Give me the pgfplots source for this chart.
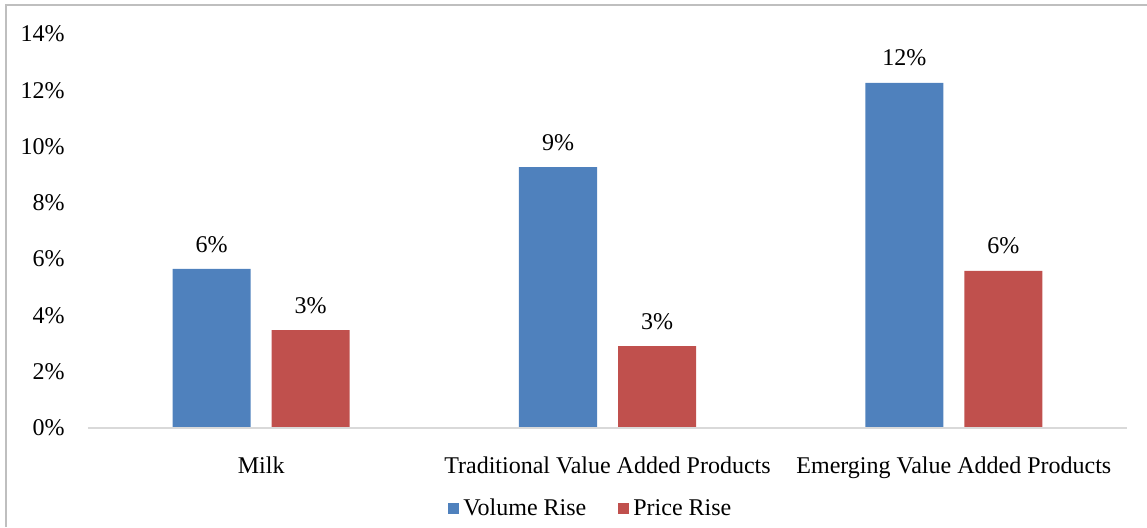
\documentclass[border=0pt]{standalone}
\usepackage{fontspec}
\setmainfont{Liberation Serif}
\usepackage{pgfplots}
\pgfplotsset{compat=1.18}
\definecolor{vblue}{HTML}{4F81BD}
\definecolor{pred}{HTML}{C0504D}
\definecolor{axgray}{HTML}{D9D9D9}
\definecolor{bordergray}{HTML}{BFBFBF}
\begin{document}
\begin{tikzpicture}[font=\fontsize{12}{14.4}\selectfont]
\path[use as bounding box] (-44pt,-49.5pt) rectangle (529.5pt,214pt);
\begin{axis}[
  at={(0,0)}, anchor=south west,
  scale only axis, width=519.5pt, height=197pt,
  xmin=-0.5, xmax=2.5, ymin=0, ymax=14,
  ybar, bar width=39pt,
  axis line style={draw=none},
  tick style={draw=none},
  xtick={0,1,2},
  xticklabels={Milk, Traditional Value Added Products, Emerging Value Added Products},
  xticklabel style={anchor=base, yshift=-18.5pt},
  ytick={0,2,...,14},
  yticklabel={\pgfmathprintnumber{\tick}\%},
  yticklabel style={anchor=east, inner sep=0pt, xshift=-11.5pt},
  /pgf/number format/assume math mode=true,
  nodes near coords,
  point meta=explicit symbolic,
  nodes near coords style={anchor=base, yshift=8.5pt, text=black},
  legend style={draw=none, at={(0.485,-0.205)}, anchor=center, legend columns=2,
    /tikz/every even column/.append style={column sep=14pt}},
  legend image code/.code={\fill[#1] (0pt,-2.75pt) rectangle (5.5pt,2.75pt);},
  clip=false,
]
\addplot[fill=vblue, draw=none, bar shift=-24.75pt] coordinates {(0,5.65)[6\%] (1,9.27)[9\%] (2,12.26)[12\%]};
\addplot[fill=pred, draw=none, bar shift=24.75pt] coordinates {(0,3.48)[3\%] (1,2.91)[3\%] (2,5.58)[6\%]};
\legend{Volume Rise, Price Rise}
\draw[axgray, line width=1pt] (axis cs:-0.5,0) -- (axis cs:2.5,0);
\end{axis}
\draw[bordergray, line width=1pt] (-41pt,-49.5pt) -- (-41pt,211.5pt) -- (529.5pt,211.5pt);
\end{tikzpicture}
\end{document}
